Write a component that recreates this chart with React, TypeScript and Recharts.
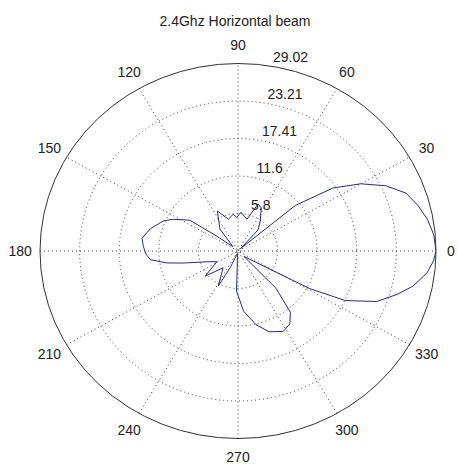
import { LineChart, Line, XAxis, YAxis, ReferenceLine, ReferenceDot } from 'recharts';

const TITLE = '2.4Ghz Horizontal beam';
const R_MAX = 29.02;
const RING_TICKS = [5.8, 11.6, 17.41, 23.21];
const RING_LABELS = ['5.8', '11.6', '17.41', '23.21', '29.02'];
const SPOKES = [0, 30, 60, 90, 120, 150];
const ANGLE_LABELS = [0, 30, 60, 90, 120, 150, 180, 210, 240, 270, 300, 330];

const ANGLES = [
  0, 5, 10, 15, 20, 25, 30, 35, 39, 40, 45, 48, 55, 63, 68, 75, 86, 92, 97, 106, 116, 128, 138,
  144, 146, 149, 153, 157, 165, 172, 177, 182, 186, 190, 193, 200, 208, 219, 230, 242, 246, 256,
  266, 268, 275, 283, 290, 298, 304, 309, 314, 316, 331, 334, 339, 344, 348, 353, 357, 360,
];
const GAIN = [
  29.02, 28.8, 28.2, 27.3, 26.2, 23.9, 20.8, 17.0, 11.8, 11.0, 0.5, 4.4, 5.7, 7.5, 7.85, 5.1, 6.0,
  5.2, 5.75, 5.1, 6.9, 4.3, 1.0, 4.5, 8.5, 9.4, 10.8, 11.9, 13.3, 14.2, 13.9, 13.5, 12.9, 10.6,
  8.3, 4.9, 3.5, 6.2, 3.4, 6.15, 2.8, 0.4, 1.0, 6.2, 9.35, 11.7, 13.3, 14.1, 13.6, 12.2, 8.0, 1.2,
  12.0, 17.5, 21.8, 24.3, 26.2, 27.9, 28.7, 29.02,
];

const W = 458;
const H = 464;
const MARGIN = { top: 63.5, right: 22, bottom: 25.5, left: 40 };
const SX = (W - MARGIN.left - MARGIN.right) / (2 * R_MAX);
const SY = (H - MARGIN.top - MARGIN.bottom) / (2 * R_MAX);

const FONT = '"Liberation Sans", Arial, sans-serif';
const TEXT = '#222';
const GRID = '#3a3a3a';
const CURVE = '#2a2a84';

const rad = (d: number) => (d * Math.PI) / 180;

const data = ANGLES.map((a, i) => ({
  x: GAIN[i] * Math.cos(rad(a)),
  y: GAIN[i] * Math.sin(rad(a)),
}));

export default function App() {
  return (
    <div style={{ position: 'absolute', left: 0, top: 0, width: W, height: H, background: '#fff' }}>
      <div
        style={{
          position: 'absolute',
          left: 0,
          width: 470,
          top: 13,
          textAlign: 'center',
          fontFamily: FONT,
          fontSize: 14,
          color: TEXT,
        }}
      >
        {TITLE}
      </div>
      <LineChart width={W} height={H} data={data} margin={MARGIN}>
        <XAxis dataKey="x" type="number" domain={[-R_MAX, R_MAX]} allowDataOverflow hide />
        <YAxis dataKey="y" type="number" domain={[-R_MAX, R_MAX]} allowDataOverflow hide />
        <ReferenceDot
          x={0}
          y={0}
          r={0}
          ifOverflow="visible"
          shape={(p: any) => (
            <g>
              <ellipse cx={p.cx} cy={p.cy} rx={R_MAX * SX} ry={R_MAX * SY} fill="none" stroke="#333" strokeWidth={1} />
              {RING_TICKS.map((t) => (
                <ellipse
                  key={t}
                  cx={p.cx}
                  cy={p.cy}
                  rx={t * SX}
                  ry={t * SY}
                  fill="none"
                  stroke={GRID}
                  strokeWidth={1}
                  strokeDasharray="1 3"
                />
              ))}
            </g>
          )}
        />
        {SPOKES.map((a) => (
          <ReferenceLine
            key={a}
            ifOverflow="visible"
            segment={[
              { x: -R_MAX * Math.cos(rad(a)), y: -R_MAX * Math.sin(rad(a)) },
              { x: R_MAX * Math.cos(rad(a)), y: R_MAX * Math.sin(rad(a)) },
            ]}
            stroke={GRID}
            strokeWidth={1}
            strokeDasharray="1 3"
          />
        ))}
        {ANGLE_LABELS.map((a) => (
          <ReferenceDot
            key={a}
            x={1.1 * R_MAX * Math.cos(rad(a))}
            y={1.1 * R_MAX * Math.sin(rad(a))}
            r={0}
            ifOverflow="visible"
            shape={(p: any) => (
              <text
                x={Math.min(p.cx, W - 7)}
                y={p.cy}
                textAnchor="middle"
                dominantBaseline="central"
                fontFamily={FONT}
                fontSize={14}
                fill={TEXT}
              >
                {a}
              </text>
            )}
          />
        ))}
        {[...RING_TICKS, R_MAX].map((t, i) => (
          <ReferenceDot
            key={t}
            x={t * Math.cos(rad(82))}
            y={t * Math.sin(rad(82))}
            r={0}
            ifOverflow="visible"
            shape={(p: any) => (
              <text x={p.cx + 7.5} y={p.cy - 3.5} textAnchor="start" fontFamily={FONT} fontSize={14} fill={TEXT}>
                {RING_LABELS[i]}
              </text>
            )}
          />
        ))}
        <Line
          dataKey="y"
          type="linear"
          stroke={CURVE}
          strokeWidth={1}
          dot={false}
          activeDot={false}
          isAnimationActive={false}
        />
      </LineChart>
    </div>
  );
}
